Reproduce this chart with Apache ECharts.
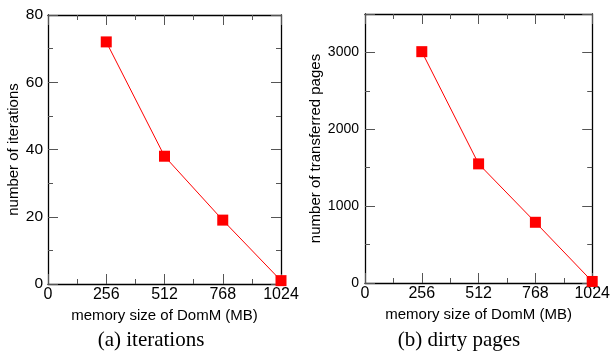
<!DOCTYPE html>
<html>
<head>
<meta charset="utf-8">
<script src="https://cdn.jsdelivr.net/npm/echarts@6/dist/echarts.min.js"></script>
<style>
html,body{margin:0;padding:0;background:#fff;}
#c{width:613px;height:356px;}
</style>
</head>
<body>
<div id="c"></div>
<script>
var memorySizes = [256, 512, 768, 1024];
var iterations = [72, 38, 19, 1];
var transferredPages = [3010, 1550, 790, 20];
var captionA = '(a) iterations';
var captionB = '(b) dirty pages';
var xName = 'memory size of DomM (MB)';
var yNameA = 'number of iterations';
var yNameB = 'number of transferred pages';

function pairs(xs, ys){ return xs.map(function(x,i){return [x, ys[i]];}); }
function plain(v){ return String(v); }

var sans = 'Liberation Sans';
var lineStyle = {color:'#000', width:1.3};
var tickStyle = {color:'#555', width:1};

function mainX(gi){
  return {
    type:'value', gridIndex:gi, min:0, max:1024, interval:256,
    name:xName, nameLocation:'middle', nameGap:21,
    nameTextStyle:{fontFamily:sans, fontSize:15, color:'#000'},
    axisLine:{show:true, onZero:false, lineStyle:lineStyle},
    axisTick:{show:true, inside:true, length:10, lineStyle:tickStyle},
    minorTick:{show:true, splitNumber:2, length:5, lineStyle:tickStyle},
    axisLabel:{fontFamily:sans, fontSize:16, color:'#000', margin:3, showMaxLabel:true, showMinLabel:true, formatter:plain},
    splitLine:{show:false}
  };
}
function topX(gi){
  return {
    type:'value', gridIndex:gi, position:'top', min:0, max:1024, interval:256,
    axisLine:{show:true, onZero:false, lineStyle:lineStyle},
    axisTick:{show:true, inside:true, length:10, lineStyle:tickStyle},
    minorTick:{show:true, splitNumber:2, length:5, lineStyle:tickStyle},
    axisLabel:{show:false}, splitLine:{show:false}
  };
}
function mainY(gi, max, interval, name, gap, fs, margin, showMax){
  return {
    type:'value', gridIndex:gi, min:0, max:max, interval:interval,
    name:name, nameLocation:'middle', nameGap:gap,
    nameTextStyle:{fontFamily:sans, fontSize:15, color:'#000'},
    axisLine:{show:true, onZero:false, lineStyle:lineStyle},
    axisTick:{show:true, inside:true, length:10, lineStyle:tickStyle},
    minorTick:{show:true, splitNumber:2, length:5, lineStyle:tickStyle},
    axisLabel:{fontFamily:sans, fontSize:fs, color:'#000', margin:margin, showMaxLabel:showMax, formatter:plain},
    splitLine:{show:false}
  };
}
function rightY(gi, max, interval){
  return {
    type:'value', gridIndex:gi, position:'right', min:0, max:max, interval:interval,
    axisLine:{show:true, onZero:false, lineStyle:lineStyle},
    axisTick:{show:true, inside:true, length:10, lineStyle:tickStyle},
    minorTick:{show:true, splitNumber:2, length:5, lineStyle:tickStyle},
    axisLabel:{show:false}, splitLine:{show:false}
  };
}

var captionStyle = {fontFamily:'Liberation Serif', fontSize:21, fill:'#000', textAlign:'center', textVerticalAlign:'middle'};

var chart = echarts.init(document.getElementById('c'), null, {renderer:'canvas'});
chart.setOption({
  animation:false,
  backgroundColor:'#fff',
  graphic:[
    {type:'text', x:151, y:340, style:Object.assign({text:captionA}, captionStyle)},
    {type:'text', x:459, y:340, style:Object.assign({text:captionB}, captionStyle)}
  ],
  grid:[
    {left:48, top:15, width:233, height:269},
    {left:365, top:14, width:234, height:269}
  ],
  xAxis:[mainX(0), topX(0), mainX(1), topX(1)],
  yAxis:[
    mainY(0, 80, 20, yNameA, 27, 15.5, 5, true), rightY(0, 80, 20),
    mainY(1, 3500, 1000, yNameB, 42, 14, 6, false), rightY(1, 3500, 1000)
  ],
  series:[
    {type:'line', xAxisIndex:0, yAxisIndex:0, data:pairs(memorySizes, iterations),
     symbol:'rect', symbolSize:11, itemStyle:{color:'#ff0000'}, lineStyle:{color:'#ff0000', width:1}, clip:false},
    {type:'line', xAxisIndex:2, yAxisIndex:2, data:pairs(memorySizes, transferredPages),
     symbol:'rect', symbolSize:11, itemStyle:{color:'#ff0000'}, lineStyle:{color:'#ff0000', width:1}, clip:false}
  ]
});
</script>
</body>
</html>
